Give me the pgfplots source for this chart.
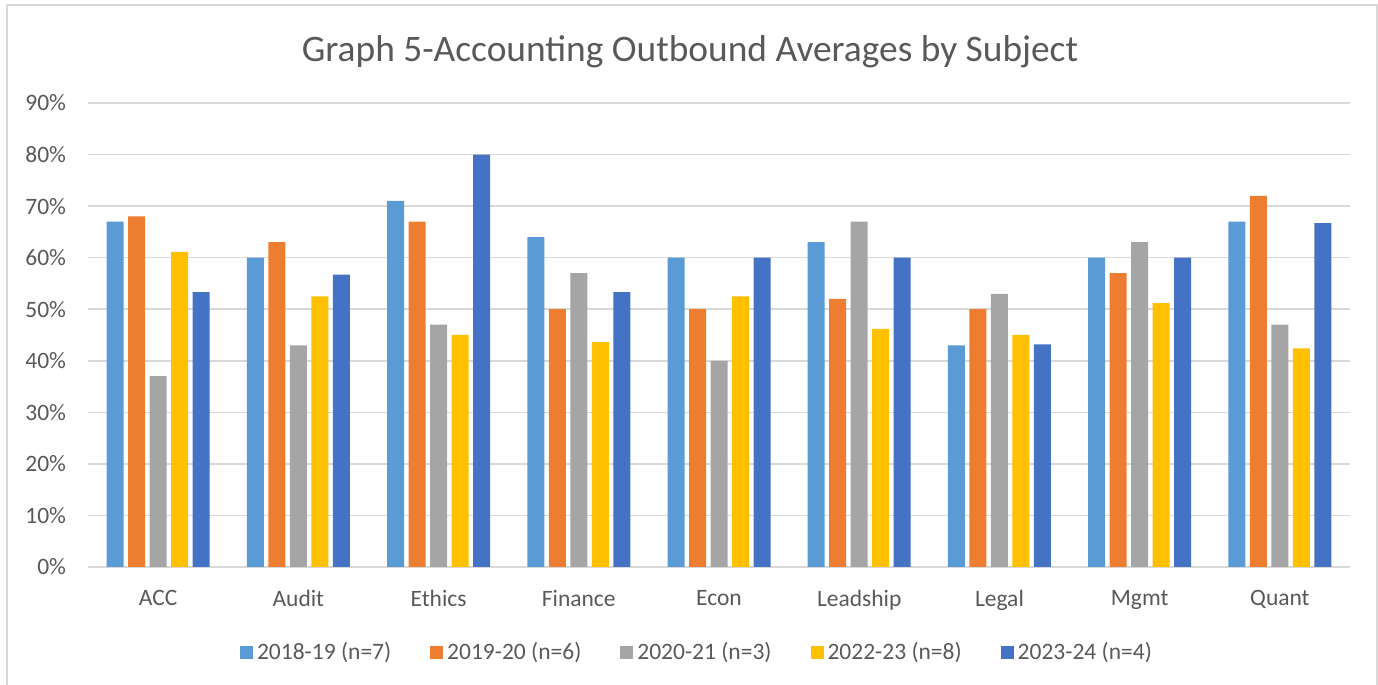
\documentclass[border=0pt]{standalone}
\usepackage{pgfplots}
\pgfplotsset{compat=1.18}
\usepackage{fontspec}
\setmainfont{Carlito}
\definecolor{c1}{HTML}{5B9BD5}
\definecolor{c2}{HTML}{ED7D31}
\definecolor{c3}{HTML}{A5A5A5}
\definecolor{c4}{HTML}{FFC000}
\definecolor{c5}{HTML}{4472C4}
\definecolor{gridc}{HTML}{D9D9D9}
\definecolor{textc}{HTML}{595959}
\begin{document}
\begin{tikzpicture}
\useasboundingbox (0,0) rectangle (689bp,342.5bp);
\draw[color=gridc, line width=0.75bp] (3.5bp,0) -- (3.5bp,340bp) -- (688.5bp,340bp) -- (688.5bp,0);
\begin{axis}[
  at={(44bp,59bp)}, anchor=south west,
  scale only axis, width=631bp, height=232bp,
  ymin=0, ymax=90, xmin=-0.5, xmax=8.5,
  ybar=2.25bp, bar width=8.5bp,
  xtick={0,...,8},
  xticklabels={ACC,Audit,Ethics,Finance,Econ,Leadship,Legal,Mgmt,Quant},
  ytick={0,10,...,90},
  yticklabels={0\%,10\%,20\%,30\%,40\%,50\%,60\%,70\%,80\%,90\%},
  axis line style={draw=none}, major tick length=0pt,
  ymajorgrids, grid style={color=gridc, line width=0.75bp},
  ticklabel style={text=textc, font=\fontsize{11.75bp}{14bp}\selectfont},
  xticklabel style={yshift=-8.25bp},
  yticklabel style={xshift=-7.5bp},
  title={Graph 5-Accounting Outbound Averages by Subject},
  title style={at={(0.477,1)}, anchor=base, yshift=14.75bp, font=\fontsize{18.7bp}{22bp}\selectfont, text=textc},
  legend style={at={(0.477,0)}, anchor=center, xshift=4bp, yshift=-42.5bp, draw=none, fill=none,
    legend columns=5, font=\fontsize{11.75bp}{14bp}\selectfont, text=textc,
    /tikz/every even column/.append style={column sep=17.5bp}},
  legend image code/.code={\fill[#1] (0bp,-3.25bp) rectangle (6.5bp,3.25bp);},
]
\addplot[fill=c1, draw=none] coordinates {(0,67) (1,60) (2,71) (3,64) (4,60) (5,63) (6,43) (7,60) (8,67)};
\addplot[fill=c2, draw=none] coordinates {(0,68) (1,63) (2,67) (3,50) (4,50) (5,52) (6,50) (7,57) (8,72)};
\addplot[fill=c3, draw=none] coordinates {(0,37) (1,43) (2,47) (3,57) (4,40) (5,67) (6,53) (7,63) (8,47)};
\addplot[fill=c4, draw=none] coordinates {(0,61.1) (1,52.5) (2,45) (3,43.6) (4,52.5) (5,46.2) (6,45) (7,51.2) (8,42.4)};
\addplot[fill=c5, draw=none] coordinates {(0,53.3) (1,56.7) (2,80) (3,53.3) (4,60) (5,60) (6,43.2) (7,60) (8,66.7)};
\legend{2018-19 (n=7),2019-20 (n=6),2020-21 (n=3),2022-23 (n=8),2023-24 (n=4)}
\end{axis}
\end{tikzpicture}
\end{document}
